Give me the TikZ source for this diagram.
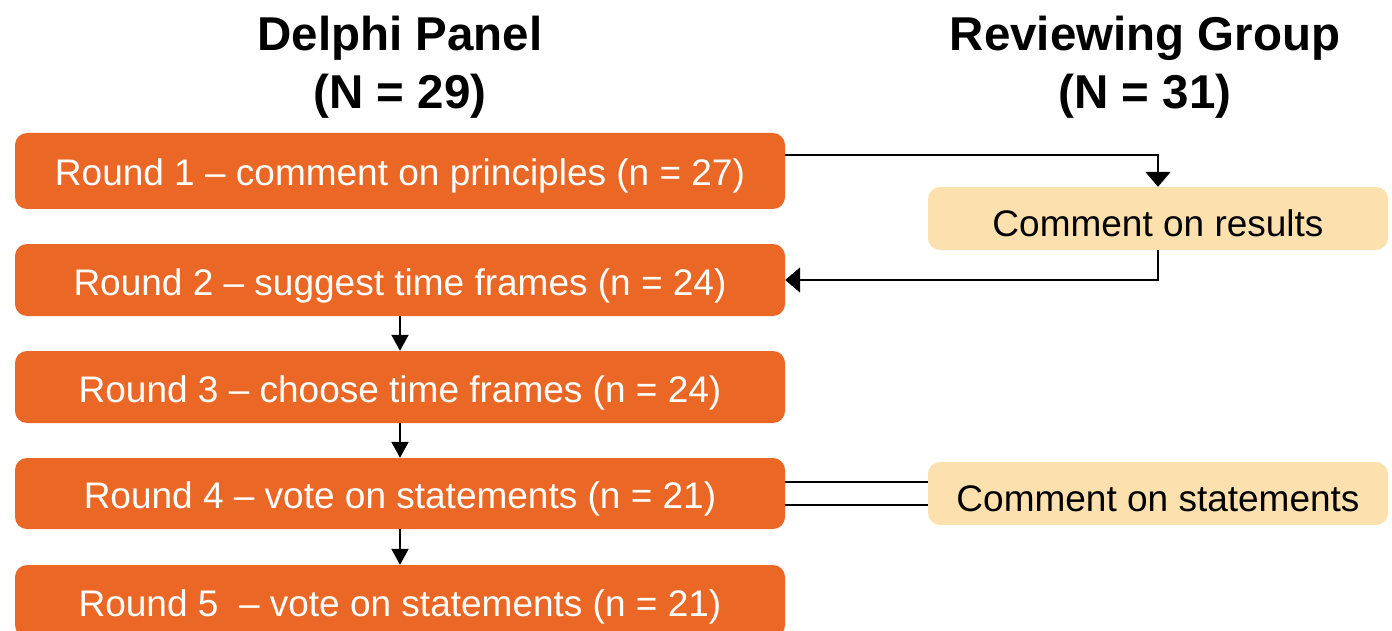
\documentclass[tikz,border=0pt]{standalone}
\usepackage{fontspec}
\setmainfont{Liberation Sans}
\usetikzlibrary{arrows.meta}
\definecolor{roundorange}{HTML}{EA6726}
\definecolor{reviewtan}{HTML}{FCE0AE}
\tikzset{
    roundbox/.style={fill=roundorange, text=white, rounded corners=12pt, minimum width=770pt, inner sep=0pt, text height=30pt, text depth=0pt, font=\fontsize{37}{44}\selectfont},
    reviewbox/.style={fill=reviewtan, text=black, rounded corners=12pt, minimum width=460pt, minimum height=63pt, inner sep=0pt, text height=36pt, text depth=0pt, font=\fontsize{37}{44}\selectfont},
    title/.style={align=center, font=\bfseries\fontsize{47.5}{58}\selectfont},
    link/.style={line width=2pt},
    flow/.style={line width=2pt, -{Triangle[width=17pt,length=16pt]}},
    wideflow/.style={line width=2pt, -{Triangle[width=25pt,length=15pt]}}
}
\begin{document}
\begin{tikzpicture}[x=1pt,y=-1pt]
\useasboundingbox (0,0) rectangle (1392,631);
\node[title] (delphi) at (400,67) {Delphi Panel\\(N = 29)};
\node[title] (review) at (1145,67) {Reviewing Group\\(N = 31)};
\foreach \p/\y/\h/\labeltext in {r1/171/76/{Round 1 -- comment on principles (n = 27)}, r2/280/72/{Round 2 -- suggest time frames (n = 24)}, r3/387/72/{Round 3 -- choose time frames (n = 24)}, r4/493.5/71/{Round 4 -- vote on statements (n = 21)}, r5/601/72/{Round 5\ \ -- vote on statements (n = 21)}}{
    \node[roundbox, minimum height=\h pt] (\p) at (400,\y) {\labeltext};
}
\node[reviewbox] (cresults) at (1158,218.5) {Comment on results};
\node[reviewbox] (cstatements) at (1158,493.5) {Comment on statements};
\draw[wideflow] ([yshift=16pt]r1.east) -| (cresults.north);
\draw[wideflow] (cresults.south) |- (r2.east);
\draw[flow] (r2.south) -- (r3.north);
\draw[flow] (r3.south) -- (r4.north);
\draw[flow] (r4.south) -- (r5.north);
\draw[link] ([yshift=11.5pt]r4.east) -- ([yshift=11.5pt]cstatements.west);
\draw[link] ([yshift=-11.5pt]r4.east) -- ([yshift=-11.5pt]cstatements.west);
\end{tikzpicture}
\end{document}
